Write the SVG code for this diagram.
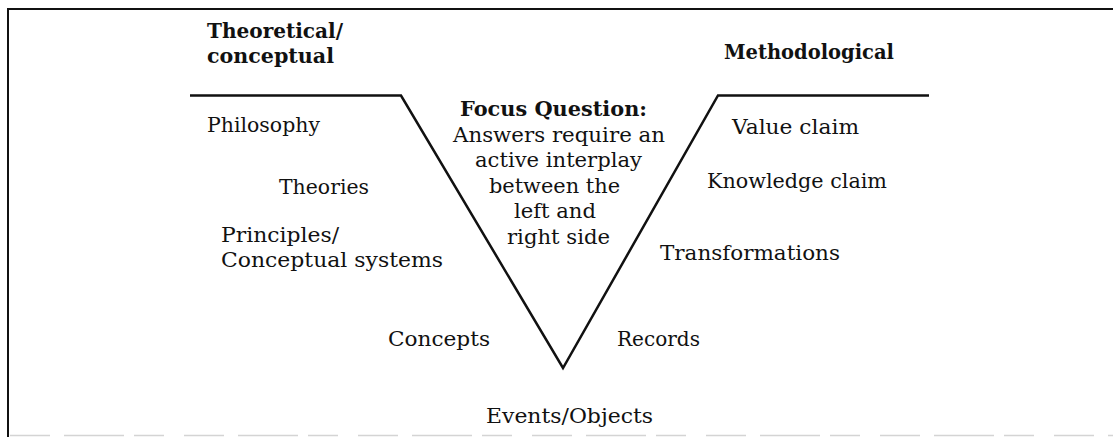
<svg xmlns="http://www.w3.org/2000/svg" width="1113" height="437" viewBox="0 0 1113 437">
<style>
.t{font-family:"DejaVu Serif","Liberation Serif",serif;font-size:20px;fill:#111}
.b{font-family:"DejaVu Serif","Liberation Serif",serif;font-size:20px;font-weight:bold;fill:#111}
.ln{stroke:#111;stroke-width:2.5;fill:none;stroke-linejoin:miter}
</style>
<rect width="1113" height="437" fill="#fff"/>
<g id="frame">
<line x1="7" y1="9" x2="1113" y2="9" stroke="#111" stroke-width="2"/>
<line x1="8" y1="9" x2="8" y2="437" stroke="#111" stroke-width="2"/>
<line x1="10" y1="435.5" x2="1113" y2="435.5" stroke="#d4d4d4" stroke-width="1.5" stroke-dasharray="40 14 60 10 30 20"/>
</g>
<g id="connectors">
<path class="ln" d="M190 95.5 H401 L563 368 L718 95.5 H929"/>
</g>
<g id="theoretical"><text class="b" x="207" y="38" textLength="136" lengthAdjust="spacingAndGlyphs">Theoretical/</text><text class="b" x="207" y="63" textLength="127" lengthAdjust="spacingAndGlyphs">conceptual</text></g>
<g id="methodological"><text class="b" x="724" y="59" textLength="170" lengthAdjust="spacingAndGlyphs">Methodological</text></g>
<g id="philosophy"><text class="t" x="207" y="132" textLength="113" lengthAdjust="spacingAndGlyphs">Philosophy</text></g>
<g id="theories"><text class="t" x="279" y="194" textLength="90" lengthAdjust="spacingAndGlyphs">Theories</text></g>
<g id="principles"><text class="t" x="221" y="242" textLength="118" lengthAdjust="spacingAndGlyphs">Principles/</text><text class="t" x="221" y="267" textLength="222" lengthAdjust="spacingAndGlyphs">Conceptual systems</text></g>
<g id="concepts"><text class="t" x="388" y="346" textLength="102" lengthAdjust="spacingAndGlyphs">Concepts</text></g>
<g id="events"><text class="t" x="486" y="423" textLength="167" lengthAdjust="spacingAndGlyphs">Events/Objects</text></g>
<g id="records"><text class="t" x="617" y="346" textLength="83" lengthAdjust="spacingAndGlyphs">Records</text></g>
<g id="transformations"><text class="t" x="660" y="260" textLength="180" lengthAdjust="spacingAndGlyphs">Transformations</text></g>
<g id="knowledge"><text class="t" x="707" y="188" textLength="180" lengthAdjust="spacingAndGlyphs">Knowledge claim</text></g>
<g id="value"><text class="t" x="732" y="134" textLength="127" lengthAdjust="spacingAndGlyphs">Value claim</text></g>
<g id="focus">
<text class="b" x="460" y="116" textLength="187" lengthAdjust="spacingAndGlyphs">Focus Question:</text>
<text class="t" x="453" y="142" textLength="212" lengthAdjust="spacingAndGlyphs">Answers require an</text>
<text class="t" x="475" y="167" textLength="167" lengthAdjust="spacingAndGlyphs">active interplay</text>
<text class="t" x="489" y="193" textLength="131" lengthAdjust="spacingAndGlyphs">between the</text>
<text class="t" x="514" y="218" textLength="82" lengthAdjust="spacingAndGlyphs">left and</text>
<text class="t" x="507" y="244" textLength="103" lengthAdjust="spacingAndGlyphs">right side</text>
</g>
</svg>
